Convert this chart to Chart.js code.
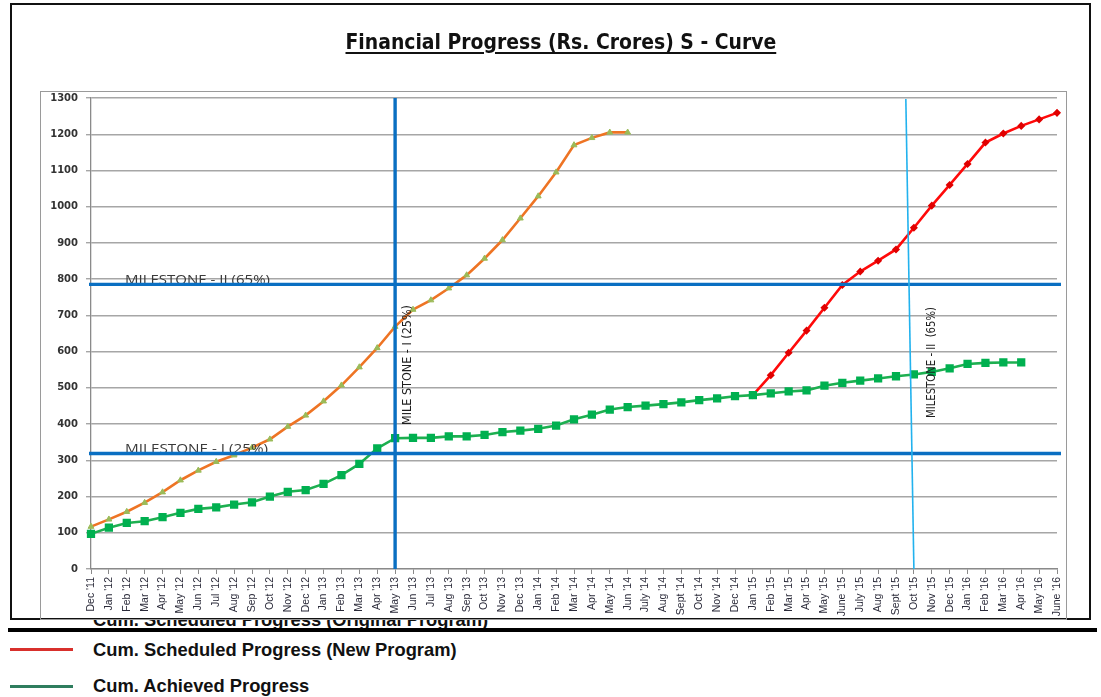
<!DOCTYPE html>
<html><head><meta charset="utf-8">
<script src="https://cdn.jsdelivr.net/npm/chart.js@4"></script>
<style>
html,body{margin:0;padding:0;background:#fff;width:1101px;height:697px;overflow:hidden;}
#wrap{position:relative;width:1101px;height:697px;}
.abs{position:absolute;white-space:nowrap;}
#chartbox{left:0;top:0;width:1101px;height:620px;background:#fff;z-index:2;}
#outer{left:10px;top:3px;width:1081px;height:617px;border:2px solid #111;box-sizing:border-box;z-index:3;pointer-events:none;}
#inner{left:40px;top:91px;width:1027px;height:529px;border:1px solid #9a9a9a;box-sizing:border-box;z-index:3;pointer-events:none;}
#thick{left:8px;top:628px;width:1089px;height:4px;background:#000;z-index:4;}
canvas{position:absolute;left:0;top:0;}
.leg{font-weight:bold;font-family:"Liberation Sans",Arial,sans-serif;color:#111;line-height:0;}
#title{font-weight:bold;font-family:"Liberation Sans Narrow","DejaVu Sans Condensed",sans-serif;color:#111;line-height:0;text-decoration:underline;text-decoration-thickness:1.5px;text-underline-offset:3px;z-index:5;}
</style></head>
<body>
<div id="wrap">
  <div id="legOrig" class="abs leg" style="left:93px;z-index:1;">Cum. Scheduled Progress (Original Program)</div>
  <div id="chartbox" class="abs"><canvas id="c" width="1101" height="619"></canvas></div>
  <div id="outer" class="abs"></div>
  <div id="inner" class="abs"></div>
  <div id="title" class="abs">Financial Progress (Rs. Crores) S - Curve</div>
  <div id="thick" class="abs"></div>
  <div class="abs" style="left:10px;top:647.5px;width:63px;height:3px;background:#D8302C;"></div>
  <div id="legNew" class="abs leg" style="left:93px;">Cum. Scheduled Progress (New Program)</div>
  <div class="abs" style="left:10px;top:684.5px;width:63px;height:3px;background:#2E7D5E;"></div>
  <div id="legAch" class="abs leg" style="left:93px;">Cum. Achieved Progress</div>
</div>
<script>
// ---------- data ----------
const months = ["Dec '11","Jan '12","Feb '12","Mar '12","Apr '12","May '12","Jun '12","Jul '12","Aug '12","Sep '12","Oct '12","Nov '12","Dec '12",
"Jan '13","Feb '13","Mar '13","Apr '13","May '13","Jun '13","Jul '13","Aug '13","Sep '13","Oct '13","Nov '13","Dec '13",
"Jan '14","Feb '14","Mar '14","Apr '14","May '14","Jun '14","July '14","Aug '14","Sept '14","Oct '14","Nov '14","Dec '14",
"Jan '15","Feb '15","Mar '15","Apr '15","May '15","June '15","July '15","Aug '15","Sept '15","Oct '15","Nov '15","Dec '15",
"Jan '16","Feb '16","Mar '16","Apr '16","May '16","June '16"];
const yTicks = [0,100,200,300,400,500,600,700,800,900,1000,1100,1200,1300];
const originalProgram = [117,137,158,183,212,245,272,296,314,335,358,393,424,463,507,557,610,669,716,742,775,811,857,908,968,1029,1095,1170,1190,1205,1205];
const newProgramStart = "Jan '15";
const newProgram = [480,535,597,658,721,784,821,851,882,942,1003,1060,1118,1177,1202,1223,1241,1259];
const achieved = [97,114,127,132,143,155,166,170,178,184,200,213,218,235,259,290,333,361,362,362,
366,366,370,378,382,387,396,413,426,440,447,451,455,460,466,471,477,480,485,490,
493,506,514,520,526,532,537,544,554,566,569,570,570];
const milestoneLevels = [320, 787];
const milestoneLevelText = ["MILESTONE - I (25%)", "MILESTONE - II (65%)"];
const milestoneMonths = ["May '13", "Oct '15"];
const milestoneMonthText = ["MILE STONE - I (25%)", "MILESTONE - II  (65%)"];

// ---------- helpers ----------
const mctx = document.createElement('canvas').getContext('2d');
function fitSize(text, weight, family, target){ mctx.font = weight+' 100px '+family; return 100*target/mctx.measureText(text).width; }
function placeBaseline(el, fs, family, weight, baseline){
  mctx.font = weight+' '+fs+'px '+family;
  const m = mctx.measureText(el.textContent);
  const A = m.fontBoundingBoxAscent, D = m.fontBoundingBoxDescent;
  el.style.fontSize = fs+'px';
  el.style.top = (baseline - (A - D)/2)+'px';
}
const legFam = '"Liberation Sans", Arial, sans-serif';
const legFs = fitSize("Cum. Scheduled Progress (New Program)", 'bold', legFam, 364);
placeBaseline(document.getElementById('legNew'), legFs, legFam, 'bold', 656.5);
placeBaseline(document.getElementById('legAch'), legFs, legFam, 'bold', 692);
placeBaseline(document.getElementById('legOrig'), legFs, legFam, 'bold', 626.5);
const tFam = '"Liberation Sans Narrow", "DejaVu Sans Condensed", sans-serif';
const tEl = document.getElementById('title');
const tFs = fitSize(tEl.textContent, 'bold', tFam, 431);
placeBaseline(tEl, tFs, tFam, 'bold', 49);
tEl.style.left = (561 - 431/2)+'px';

function pad(start, arr){ const out = new Array(months.length).fill(null); arr.forEach((v,i)=>{ out[start+i]=v; }); return out; }

function fitText(ctx, text, x, y, w, font, rot){
  ctx.save(); ctx.font = font;
  const mw = ctx.measureText(text).width;
  ctx.translate(x,y); if(rot) ctx.rotate(rot);
  ctx.scale(w/mw, 1);
  ctx.textAlign='left'; ctx.textBaseline='alphabetic';
  ctx.fillText(text,0,0); ctx.restore();
}

const milestonePlugin = {
  id:'milestones',
  afterDatasetsDraw(chart){
    const {ctx, chartArea:a, scales:{x,y}} = chart;
    ctx.save();
    ctx.fillStyle = '#3a3a3a';
    const yI = y.getPixelForValue(milestoneLevels[0]);
    const yII = y.getPixelForValue(milestoneLevels[1]);
    fitText(ctx, milestoneLevelText[0], 125, yI, 143, '12px "Open Sans", sans-serif', 0);
    fitText(ctx, milestoneLevelText[1], 125, yII, 145, '12px "Open Sans", sans-serif', 0);
    ctx.fillStyle = '#1e1e1e';
    const xI = x.getPixelForValue(months.indexOf(milestoneMonths[0]));
    const iII = months.indexOf(milestoneMonths[1]);
    const xII = x.getPixelForValue(iII);
    fitText(ctx, milestoneMonthText[0], xI+16, 425, 120, '12px "Liberation Sans Narrow", "DejaVu Sans Condensed", sans-serif', -Math.PI/2);
    fitText(ctx, milestoneMonthText[1], xII+21, 418, 111, '12px "Liberation Sans Narrow", "DejaVu Sans Condensed", sans-serif', -Math.PI/2);
    ctx.strokeStyle = '#0A6FC2'; ctx.lineWidth = 3.4; ctx.lineCap='butt';
    [yI,yII].forEach(py=>{ ctx.beginPath(); ctx.moveTo(a.left-2,py+0.5); ctx.lineTo(a.right+4,py+0.5); ctx.stroke(); });
    ctx.beginPath(); ctx.moveTo(xI,a.top); ctx.lineTo(xI,a.bottom); ctx.stroke();
    ctx.strokeStyle = '#22B2EE'; ctx.lineWidth = 1.6;
    ctx.beginPath(); ctx.moveTo(x.getPixelForValue(iII-0.45),a.top+1); ctx.lineTo(xII,a.bottom); ctx.stroke();
    ctx.restore();
  }
};

new Chart(document.getElementById('c'), {
  type:'line',
  data:{
    labels: months,
    datasets:[
      {label:'Cum. Scheduled Progress (Original Program)', data: pad(0, originalProgram), borderColor:'#EE7424', borderWidth:2.6,
       pointStyle:'triangle', pointRadius:3.4, pointBackgroundColor:'#9BBB59', pointBorderColor:'#9BBB59', pointBorderWidth:1, tension:0},
      {label:'Cum. Achieved Progress', data: pad(0, achieved), borderColor:'#1DAF50', borderWidth:2.6,
       pointStyle:'rect', pointRadius:4, pointBackgroundColor:'#00B050', pointBorderColor:'#00B050', tension:0},
      {label:'Cum. Scheduled Progress (New Program)', data: pad(months.indexOf(newProgramStart), newProgram), borderColor:'#FF0A0A', borderWidth:2.6,
       pointStyle:'rectRot', pointRadius:2.2, pointBackgroundColor:'#E00000', pointBorderColor:'#E00000', tension:0}
    ]
  },
  options:{
    responsive:false, animation:false, devicePixelRatio:1,
    layout:{padding:{left:0,right:44,top:98,bottom:0}},
    plugins:{legend:{display:false}, title:{display:false}, tooltip:{enabled:false}},
    scales:{
      x:{ offset:false,
          grid:{drawOnChartArea:false, drawTicks:true, tickLength:5, color:'#8a8a8a', lineWidth:1},
          border:{display:true, color:'#8a8a8a', width:1.3},
          ticks:{autoSkip:false, maxRotation:90, minRotation:90, padding:3, color:'#2b2b3a',
                 font:{family:'"Liberation Sans", Arial, sans-serif', size:10.5}},
          afterFit(s){ s.height = 50; } },
      y:{ min:0, max:1300,
          afterBuildTicks(s){ s.ticks = yTicks.map(v=>({value:v})); },
          grid:{color:'#A6A6A6', lineWidth:1.4, tickLength:5, drawTicks:true},
          border:{display:true, color:'#8a8a8a', width:1.3},
          ticks:{padding:8, color:'#333', callback:(v)=>String(v), font:{family:'"DejaVu Sans", sans-serif', size:10, weight:'bold'}},
          afterFit(s){ s.width = 91; } }
    }
  },
  plugins:[milestonePlugin]
});
</script>
</body></html>
